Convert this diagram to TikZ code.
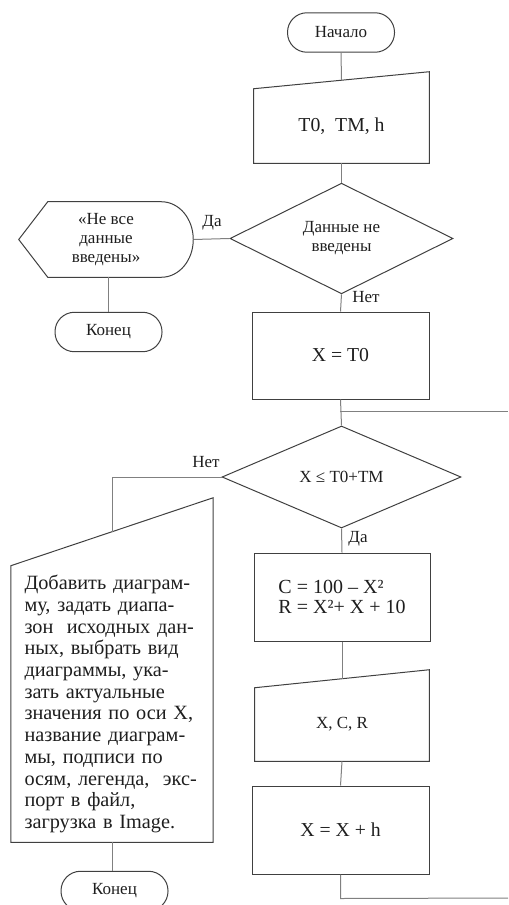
\documentclass[tikz,border=0pt]{standalone}
\usepackage{fontspec}
\setmainfont{Liberation Serif}
\usepackage{tikz}
\usetikzlibrary{shapes.geometric, calc}
\definecolor{shapeLine}{RGB}{64, 64, 64}
\definecolor{flowLine}{RGB}{128, 128, 128}
\definecolor{textColor}{RGB}{30, 30, 30}
\newcommand{\fcsmall}{\fontsize{12.75}{14.25}\selectfont}
\newcommand{\fcbig}{\fontsize{14.8}{15}\selectfont}
\newcommand{\fcnote}{\fontsize{15.2}{16.3}\selectfont}
\tikzset{
    fc_term/.style={
        rectangle,
        rounded corners=14.6pt,
        draw=shapeLine,
        line width=0.75pt,
        text=textColor,
        minimum width=80.25pt,
        minimum height=29.6pt,
        inner sep=0pt,
        font=\fcsmall
    },
    fc_proc/.style={
        rectangle,
        draw=shapeLine,
        line width=0.75pt,
        text=textColor,
        inner sep=0pt,
        align=center,
        font=\fcbig
    },
    fc_dec/.style={
        diamond,
        draw=shapeLine,
        line width=0.75pt,
        text=textColor,
        inner sep=0pt,
        align=center,
        font=\fcsmall
    },
    fc_box/.style={
        rectangle,
        text=textColor,
        inner sep=0pt,
        align=center
    },
    fc_shape/.style={
        draw=shapeLine,
        line width=0.75pt,
        line join=miter
    },
    fc_line/.style={
        draw=flowLine,
        line width=0.75pt
    },
    fc_lbl/.style={
        text=textColor,
        inner sep=0pt,
        font=\fcsmall
    }
}

\begin{document}
\begin{tikzpicture}[x=0.75pt, y=-0.75pt]
        \useasboundingbox (0,0) rectangle (508,905);
        \clip (0,0) rectangle (508,905);

        % main column
        \node[fc_term] (start) at (341,32.5) {Начало};
        \node[fc_box, font=\fcbig, minimum width=131.25pt, minimum height=55.5pt] (inp) at (341.5,126) {T0,~ TM, h};
        \node[fc_dec, minimum width=167.25pt, minimum height=71.25pt] (dec1) at (341.5,238.5) {Данные не\\введены};
        \node[fc_proc, minimum width=132.75pt, minimum height=65.25pt] (init) at (340.5,355.5) {X = T0};
        \node[fc_dec, minimum width=179.25pt, minimum height=76.5pt] (dec2) at (341.5,477) {X ≤ T0+TM};
        \node[fc_proc, minimum width=132pt, minimum height=66pt, align=left,
              font=\fontsize{15}{15}\selectfont] (calc) at (342,597) {C = 100 – X²\\R = X²+ X + 10};
        \node[fc_box, font=\fcsmall, minimum width=130.5pt, minimum height=54.75pt] (out) at (342,724.5) {X, C, R};
        \node[fc_proc, minimum width=132.75pt, minimum height=66pt] (step) at (340.5,830) {X = X + h};

        % left branches
        \node[fc_box, font=\fcsmall, minimum width=130.5pt, minimum height=56.25pt] (msg) at (106,239.5) {«Не все\\данные\\введены»};
        \node[fc_term] (end1) at (108.5,332) {Конец};
        \node[fc_box, font=\fcnote, align=left, text width=131.25pt, inner xsep=10.1pt,
              minimum height=207pt] (res) at (112,704) {Добавить диаграм-\\му, задать диапа-\\зон~ исходных дан-\\ных, выбрать вид\\диаграммы, ука-\\зать актуальные\\значения по оси X,\\название диаграм-\\мы, подписи по\\осям, легенда,~ экс-\\порт в файл,\\загрузка в Image.};
        \node[fc_term] (end2) at (114.5,891) {Конец};

        % shape outlines
        \draw[fc_shape] (inp.south west) -- (inp.north west) -- ($(inp.north east)+(0,-17)$) -- (inp.south east) -- cycle;
        \draw[fc_shape] (out.south west) -- (out.north west) -- ($(out.north east)+(0,-18)$) -- (out.south east) -- cycle;
        \draw[fc_shape] (res.south west) -- (res.north west) -- ($(res.north east)+(0,-68)$) -- (res.south east) -- cycle;
        \draw[fc_shape] (msg.west) -- ($(msg.north west)+(29,0)$) -- ($(msg.north east)+(-32,0)$)
            .. controls ($(msg.north east)+(-14,0)$) and ($(msg.east)+(0,-20.7)$) .. (msg.east)
            .. controls ($(msg.east)+(0,20.7)$) and ($(msg.south east)+(-14,0)$) .. ($(msg.south east)+(-32,0)$)
            -- ($(msg.south west)+(29,0)$) -- cycle;

        % connectors
        \coordinate (inp_top) at ($(inp.north)+(0,-8.5)$);
        \coordinate (out_top) at ($(out.north)+(0,-9)$);
        \coordinate (res_top) at ($(res.north)+(0,-34)$);
        \coordinate (jn) at ($(init.south)!0.44!(dec2.north)$);
        \coordinate (jn_r) at (508,411);
        \coordinate (loop_b) at ($(step.south)+(0,24)$);
        \coordinate (loop_r) at (508,898);

        \draw[fc_line] (start.south) -- (inp_top);
        \draw[fc_line] (inp.south) -- (dec1.north);
        \draw[fc_line] (dec1.west) -- (msg.east);
        \draw[fc_line] (msg.south -| end1.north) -- (end1.north);
        \draw[fc_line] (dec1.south) -- (init.north);
        \draw[fc_line] (init.south) -- (dec2.north);
        \draw[fc_line] (jn) -- (jn |- jn_r) -- (jn_r);
        \draw[fc_line] (dec2.west) -| (res_top);
        \draw[fc_line] (res.south) -- (res.south |- end2.north);
        \draw[fc_line] (dec2.south) -- (calc.north);
        \draw[fc_line] (calc.south) -- (out_top);
        \draw[fc_line] (out.south) -- (step.north);
        \draw[fc_line] (step.south) -- (loop_b) -- (loop_r);

        % branch labels
        \node[fc_lbl] (yes1) at (212,223) {Да};
        \node[fc_lbl] (no1) at (366,297) {Нет};
        \node[fc_lbl] (no2) at (206,462) {Нет};
        \node[fc_lbl] (yes2) at (358,539) {Да};
    \end{tikzpicture}
\end{document}
